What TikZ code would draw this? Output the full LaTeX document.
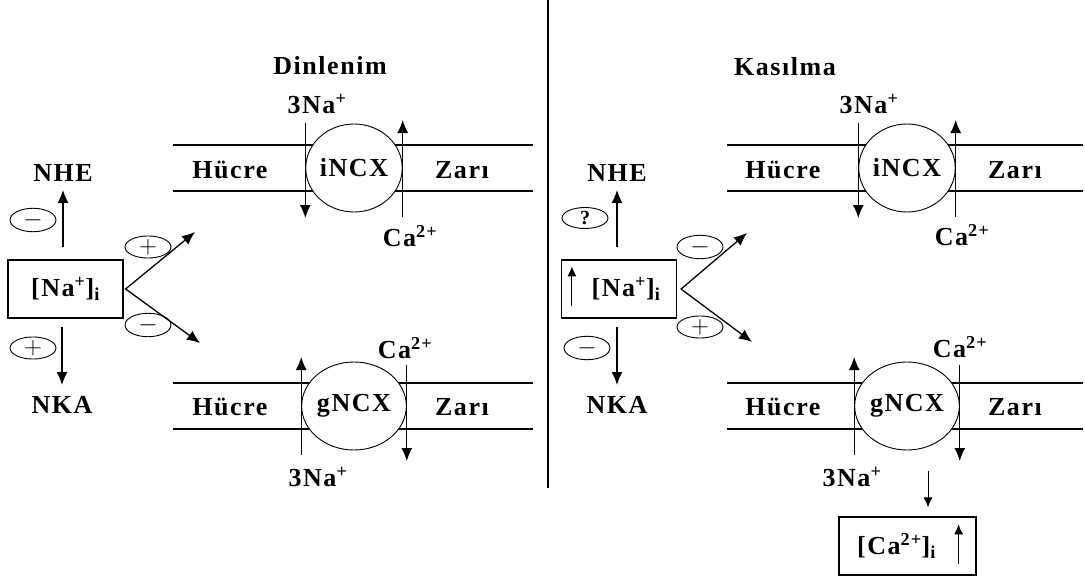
\documentclass[tikz,border=0pt]{standalone}
\usepackage{fontspec}
\setmainfont{Liberation Serif}[LetterSpace=6]
\usetikzlibrary{shapes.geometric, arrows.meta, positioning, calc}

\begin{document}
\begin{tikzpicture}[
    x=1pt, y=-1pt,
    font=\fontsize{26}{30}\selectfont\bfseries,
    txt/.style={inner sep=0pt},
    membrane/.style={line width=1.2pt},
    pump/.style={ellipse, draw, fill=white, line width=0.9pt, minimum width=96pt, minimum height=88pt, inner sep=0pt},
    sign/.style={ellipse, draw, line width=0.9pt, minimum width=46pt, minimum height=21pt, inner sep=0pt, font=\fontsize{24}{24}\selectfont},
    conc/.style={rectangle, draw, line width=1.2pt, minimum height=58pt, inner sep=0pt},
    arrow/.style={-{Latex[length=13pt,width=11pt]}, line width=1.3pt},
    vee/.style={{Latex[length=13pt,width=11pt]}-{Latex[length=13pt,width=11pt]}, line width=1.3pt},
    thinarrow/.style={-{Latex[length=10pt,width=9pt]}, line width=1pt}
  ]
    \path[use as bounding box] (0,0) rectangle (1085,578);

    % Divider
    \draw[line width=1.2pt] (548,0) -- (548,488);

    % Left panel: Dinlenim
    \node[txt] (dinlenim) at (330,66) {Dinlenim};

    \draw[membrane] (173,145) -- (533,145) (173,191) -- (533,191);
    \node[pump] (iL) at (354,168) {iNCX};
    \node[txt] (hucre1) at (230,170) {Hücre};
    \node[txt] (zari1) at (462,170) {Zarı};
    \node[txt] (na1) at (317,104) {3Na\textsuperscript{+}};
    \node[txt] (ca1) at (410,236) {Ca\textsuperscript{2+}};
    \draw[arrow] (iL.west |- 0,123) -- (iL.west |- 0,218);
    \draw[arrow] (iL.east |- 0,217) -- (iL.east |- 0,120);

    \draw[membrane] (173,383) -- (533,383) (173,429) -- (533,429);
    \node[pump] (gL) at (354,406) {gNCX};
    \node[txt] (hucre2) at (230,407) {Hücre};
    \node[txt] (zari2) at (462,407) {Zarı};
    \node[txt] (ca2) at (405,348) {Ca\textsuperscript{2+}};
    \node[txt] (na2) at (318,477) {3Na\textsuperscript{+}};
    \draw[arrow] (gL.west |- 0,455) -- (gL.west |- 0,357);
    \draw[arrow] (gL.east |- 0,365) -- (gL.east |- 0,461);

    \node[conc, minimum width=115pt] (naL) at (65.5,289) {[Na\textsuperscript{+}]\textsubscript{i}};
    \node[txt] (nheL) at (63,173) {NHE};
    \node[txt] (nkaL) at (62,405) {NKA};
    \draw[arrow] (nheL |- 0,247) -- (nheL |- 0,190);
    \draw[arrow] (nkaL |- 0,327) -- (nkaL |- 0,385);
    \node[sign] (s1) at (33,220) {$-$};
    \node[sign] (s2) at (33,348) {$+$};

    \coordinate (vL) at ([xshift=2pt]naL.east);
    \coordinate (upL) at (195,232);
    \coordinate (dnL) at (200,343);
    \draw[vee] (upL) -- (vL) -- (dnL);
    \node[sign] (s3) at (148,247) {$+$};
    \node[sign] (s4) at (148,325) {$-$};

    % Right panel: Kasilma
    \node[txt] (kasilma) at (785,67) {Kasılma};

    \draw[membrane] (727,145) -- (1083,145) (727,191) -- (1083,191);
    \node[pump] (iR) at (907,168) {iNCX};
    \node[txt] (hucre3) at (783,170) {Hücre};
    \node[txt] (zari3) at (1015,170) {Zarı};
    \node[txt] (na3) at (869,104) {3Na\textsuperscript{+}};
    \node[txt] (ca3) at (962,235) {Ca\textsuperscript{2+}};
    \draw[arrow] (iR.west |- 0,123) -- (iR.west |- 0,218);
    \draw[arrow] (iR.east |- 0,217) -- (iR.east |- 0,120);

    \draw[membrane] (727,383) -- (1083,383) (727,429) -- (1083,429);
    \node[pump] (gR) at (907,406) {gNCX};
    \node[txt] (hucre4) at (783,407) {Hücre};
    \node[txt] (zari4) at (1015,407) {Zarı};
    \node[txt] (ca4) at (960,347) {Ca\textsuperscript{2+}};
    \node[txt] (na4) at (852,477) {3Na\textsuperscript{+}};
    \draw[arrow] (gR.west |- 0,455) -- (gR.west |- 0,357);
    \draw[arrow] (gR.east |- 0,365) -- (gR.east |- 0,461);

    \node[conc, minimum width=115pt] (naR) at (619,289) {\hspace*{14pt}[Na\textsuperscript{+}]\textsubscript{i}};
    \draw[thinarrow] ($(naR.south west)+(11,-13)$) -- ($(naR.north west)+(11,7)$);
    \node[txt] (nheR) at (617,173) {NHE};
    \node[txt] (nkaR) at (617,405) {NKA};
    \draw[arrow] (nheR |- 0,247) -- (nheR |- 0,190);
    \draw[arrow] (nkaR |- 0,327) -- (nkaR |- 0,385);
    \node[sign] (s5) at (585,218) {\fontsize{20}{20}\selectfont\bfseries ?};
    \node[sign] (s6) at (587,348) {$-$};

    \coordinate (vR) at ([xshift=4pt]naR.east);
    \coordinate (upR) at (747,233);
    \coordinate (dnR) at (752,342);
    \draw[vee] (upR) -- (vR) -- (dnR);
    \node[sign] (s7) at (700,247) {$-$};
    \node[sign] (s8) at (700,327) {$+$};

    \node[conc, minimum width=137pt] (caR) at (907.5,546) {[Ca\textsuperscript{2+}]\textsubscript{i}\hspace*{22pt}};
    \draw[thinarrow] ($(caR.north)+(20.5,-45)$) -- ($(caR.north)+(20.5,-9)$);
    \draw[thinarrow] ($(caR.south east)+(-18,-12)$) -- ($(caR.north east)+(-18,8)$);
\end{tikzpicture}
\end{document}
